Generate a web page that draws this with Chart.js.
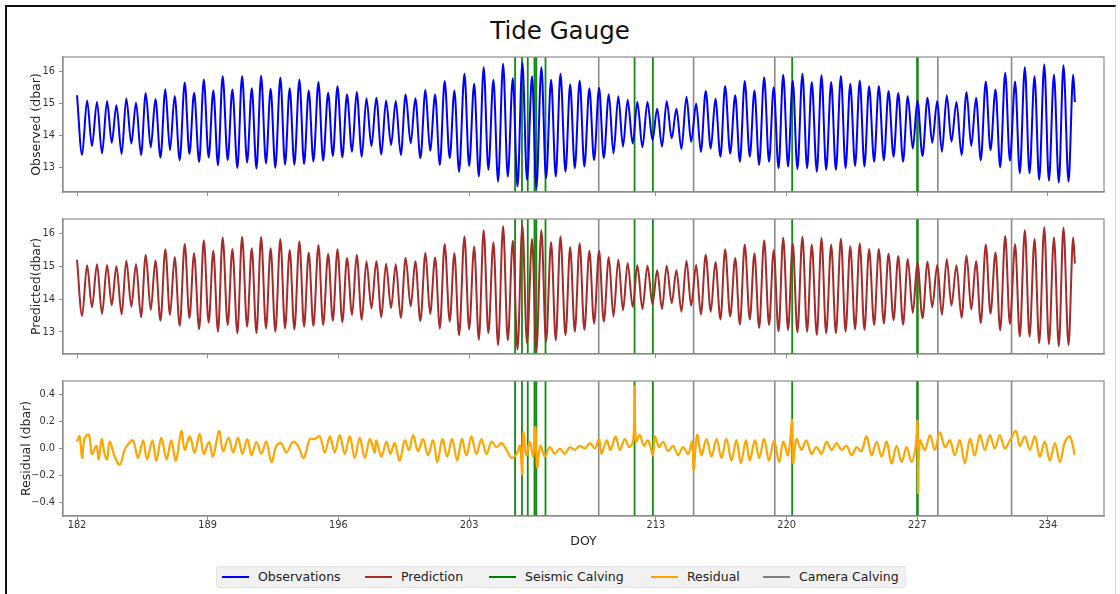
<!DOCTYPE html>
<html><head><meta charset="utf-8">
<script src="https://cdn.jsdelivr.net/npm/chart.js@4.4.0/dist/chart.umd.min.js"></script>
<style>
html,body{margin:0;padding:0;background:#fff;}
body{width:1120px;height:594px;position:relative;overflow:hidden;font-family:"DejaVu Sans",sans-serif;}
.frame{position:absolute;left:5px;top:5px;width:1111px;height:640px;border-top:2px solid #111;border-left:2px solid #111;border-right:1px solid #d6d6d6;box-sizing:border-box;}
#title{position:absolute;left:0;top:16px;width:1120px;height:30px;line-height:30px;text-align:center;font-size:24.5px;color:#111;}
.pan{position:absolute;left:0;width:1120px;}
.legbox{position:absolute;left:216px;top:566px;width:690px;height:22px;background:#f1f1f1;border:1px solid #e4e4e4;border-radius:3px;box-sizing:border-box;}
.lline{position:absolute;top:576px;width:27px;height:2px;}
.ltext{position:absolute;top:568px;height:18px;line-height:18px;font-size:12.5px;color:#222;white-space:nowrap;}
</style>
</head><body>
<div class="frame"></div>
<div id="title">Tide Gauge</div>
<div class="pan" style="top:47px;height:160px"><canvas id="c1" width="1120" height="160"></canvas></div>
<div class="pan" style="top:209px;height:160px"><canvas id="c2" width="1120" height="160"></canvas></div>
<div class="pan" style="top:371px;height:185px"><canvas id="c3" width="1120" height="185"></canvas></div>
<div class="legbox"></div>
<div class="lline" style="left:222px;background:#0000ff"></div><div class="ltext" style="left:258px">Observations</div>
<div class="lline" style="left:365px;background:#a52a2a"></div><div class="ltext" style="left:401px">Prediction</div>
<div class="lline" style="left:489px;background:#008000"></div><div class="ltext" style="left:525px">Seismic Calving</div>
<div class="lline" style="left:651px;background:#ffa500"></div><div class="ltext" style="left:687px">Residual</div>
<div class="lline" style="left:763px;background:#808080"></div><div class="ltext" style="left:799px">Camera Calving</div>
<script>
// ---- data ----
const doyTicks = [182, 189, 196, 203, 213, 220, 227, 234];
const tideTicks = [13, 14, 15, 16];
const resTicks = [-0.4, -0.2, 0.0, 0.2, 0.4];
const seismicCalving = [205.46, 205.83, 206.14, 206.50, 206.60, 207.09, 211.86, 212.84, 220.30, 226.99, 227.03];
const cameraCalving = [206.56, 209.94, 215.02, 219.37, 228.10, 232.05];

// times (DOY) of the tidal highs and lows
const tideT = [
182.00,182.27,182.54,182.80,183.07,183.34,183.61,183.86,184.11,184.39,
184.64,184.91,185.16,185.43,185.68,185.95,186.20,186.47,186.73,186.98,
187.23,187.50,187.77,188.02,188.27,188.54,188.79,189.05,189.30,189.55,
189.80,190.07,190.32,190.59,190.84,191.11,191.36,191.61,191.86,192.12,
192.37,192.62,192.89,193.14,193.39,193.64,193.91,194.16,194.41,194.66,
194.93,195.18,195.45,195.70,195.95,196.21,196.46,196.73,196.98,197.25,
197.50,197.77,
198.03,198.30,198.55,198.82,199.07,199.34,199.60,199.87,200.12,200.39,
200.66,200.91,201.18,201.43,201.69,201.96,202.21,202.46,202.75,203.00,
203.27,203.52,203.78,204.03,204.30,204.55,204.82,205.07,205.34,205.59,
205.85,206.10,206.37,206.60,206.87,207.12,207.39,207.64,207.89,208.16,
208.41,208.66,208.92,209.17,209.44,209.69,209.96,210.21,210.48,210.73,
210.99,211.24,211.49,211.76,212.01,212.28,212.55,212.82,213.07,213.33,
213.58,213.85,214.10,214.37,214.64,214.89,215.16,215.41,215.67,215.94,
216.19,216.46,216.71,216.98,217.25,217.50,
217.76,218.03,218.28,218.53,218.80,219.06,219.31,219.57,219.82,220.08,
220.33,220.58,220.85,221.10,221.35,221.62,221.87,222.12,222.39,222.64,
222.91,223.16,223.41,223.67,223.92,224.17,224.42,224.69,224.94,225.21,
225.46,225.73,225.98,226.24,226.49,226.76,227.01,227.28,227.55,227.80,
228.07,228.32,228.58,228.83,229.10,229.37,229.64,229.89,230.15,230.40,
230.67,230.92,231.19,231.44,231.71,231.96,232.24,232.49,232.76,233.01,
233.28,233.53,233.80,234.05,234.32,234.58,234.83,235.10,235.35,235.44];

const obsV = [
15.26,13.40,15.10,13.68,15.05,13.45,15.08,13.78,14.95,13.43,
15.16,13.76,15.03,13.40,15.33,13.64,15.14,13.32,15.45,13.55,
15.24,13.24,15.66,13.43,15.34,13.18,15.75,13.32,15.41,13.08,
15.86,13.24,15.44,13.00,15.86,13.17,15.48,12.98,15.87,13.14,
15.46,13.00,15.81,13.10,15.48,13.10,15.75,13.12,15.41,13.20,
15.67,13.22,15.34,13.37,15.54,13.33,15.28,13.50,15.36,13.35,
15.17,13.68,
15.18,13.42,15.10,13.71,15.08,13.40,15.28,13.76,15.17,13.30,
15.43,13.53,15.28,13.09,15.70,13.30,15.41,12.88,15.93,13.06,
15.62,12.73,16.13,12.94,15.74,12.57,16.24,12.73,15.79,12.42,
16.29,12.63,15.85,12.37,16.13,12.68,15.74,12.73,15.93,12.88,
15.60,12.99,15.72,13.04,15.48,13.24,15.49,13.30,15.29,13.45,
15.23,13.66,15.12,13.76,15.05,13.64,15.05,13.86,14.84,13.66,
15.07,13.92,14.84,13.59,15.21,13.81,15.00,13.50,15.39,13.60,
15.15,13.35,15.55,13.45,15.26,13.19,
15.70,13.35,15.41,13.09,15.82,13.19,15.51,12.99,15.90,13.04,
15.72,12.96,15.93,12.99,15.67,12.88,15.88,12.94,15.67,12.94,
15.86,12.99,15.62,13.06,15.72,13.04,15.54,13.19,15.55,13.24,
15.39,13.35,15.33,13.19,15.23,13.60,15.10,13.37,15.18,13.78,
15.08,13.50,15.26,13.81,15.05,13.40,15.36,13.68,15.18,13.24,
15.69,13.55,15.44,13.02,15.96,13.22,15.69,12.83,16.13,12.83,
15.85,12.63,16.22,12.60,15.90,12.54,16.19,12.57,15.90,15.05];

const predV = [
15.20,13.49,15.03,13.75,15.06,13.55,15.04,13.81,15.01,13.54,
15.18,13.77,15.07,13.45,15.35,13.67,15.18,13.34,15.52,13.52,
15.28,13.18,15.68,13.42,15.40,13.08,15.79,13.28,15.47,13.01,
15.88,13.21,15.53,12.96,15.90,13.16,15.55,12.96,15.89,13.11,
15.55,13.01,15.83,13.11,15.50,13.08,15.76,13.16,15.42,13.18,
15.65,13.21,15.38,13.34,15.52,13.30,15.25,13.52,15.35,13.37,
15.15,13.72,
15.15,13.45,15.08,13.73,15.06,13.43,15.26,13.78,15.15,13.33,
15.41,13.55,15.27,13.11,15.68,13.32,15.40,12.90,15.91,13.08,
15.60,12.76,16.10,12.96,15.73,12.60,16.22,12.75,15.78,12.46,
16.25,12.66,15.83,12.42,16.10,12.70,15.73,12.75,15.91,12.90,
15.59,13.01,15.70,13.06,15.47,13.26,15.47,13.31,15.28,13.47,
15.21,13.66,15.10,13.76,15.03,13.70,15.02,13.84,14.88,13.70,
15.02,13.88,14.88,13.62,15.17,13.80,15.04,13.53,15.35,13.62,
15.13,13.38,15.52,13.47,15.25,13.22,
15.66,13.38,15.40,13.12,15.79,13.21,15.50,13.02,15.87,13.06,
15.70,12.99,15.90,13.01,15.66,12.91,15.86,12.96,15.66,12.96,
15.84,13.01,15.61,13.08,15.70,13.06,15.53,13.21,15.53,13.26,
15.38,13.36,15.31,13.22,15.22,13.58,15.12,13.42,15.14,13.75,
15.05,13.52,15.22,13.80,15.03,13.43,15.33,13.68,15.16,13.27,
15.66,13.56,15.42,13.05,15.92,13.24,15.67,12.86,16.10,12.86,
15.83,12.66,16.19,12.63,15.88,12.57,16.17,12.60,15.88,15.08];

const resT = [
182.00,182.14,182.27,182.41,182.64,182.80,183.04,183.16,183.32,183.48,
183.61,183.75,184.02,184.29,184.55,184.73,185.00,185.27,185.54,185.75,
186.04,186.25,186.52,186.79,187.05,187.29,187.59,187.77,188.04,188.30,
188.57,188.79,189.07,189.28,189.61,189.82,190.11,190.36,190.62,190.86,
191.12,191.34,191.61,191.87,192.14,192.41,192.68,192.94,193.21,193.57,
193.84,194.14,194.47,194.73,195.00,195.27,195.54,195.80,196.07,196.34,
196.61,196.87,197.14,197.41,197.68,197.94,
198.03,198.30,198.57,198.78,199.01,199.28,199.55,199.78,200.00,200.26,
200.53,200.80,201.07,201.30,201.57,201.82,202.09,202.36,202.61,202.86,
203.12,203.39,203.66,203.93,204.20,204.46,204.73,205.00,205.27,205.54,
205.72,205.84,205.90,206.07,206.25,206.43,206.55,206.64,206.82,207.05,
207.32,207.59,207.86,208.12,208.39,208.66,208.93,209.20,209.47,209.73,
209.96,210.09,210.36,210.57,210.84,211.07,211.34,211.57,211.79,211.86,
211.93,212.14,212.36,212.59,212.84,212.94,213.17,213.39,213.66,213.92,
214.19,214.46,214.73,214.94,215.03,215.21,215.44,215.71,215.98,216.25,
216.51,216.78,217.05,217.32,217.55,217.82,
218.03,218.30,218.53,218.80,219.06,219.33,219.60,219.82,220.08,220.30,
220.35,220.53,220.80,221.06,221.33,221.60,221.87,222.14,222.41,222.67,
222.94,223.21,223.48,223.75,224.01,224.28,224.55,224.82,225.09,225.36,
225.62,225.89,226.16,226.43,226.69,226.91,227.01,227.05,227.14,227.41,
227.68,227.94,228.21,228.48,228.75,229.01,229.28,229.55,229.82,230.08,
230.35,230.62,230.89,231.15,231.42,231.69,231.96,232.28,232.49,232.76,
233.03,233.30,233.56,233.83,234.10,234.37,234.64,234.91,235.17,235.44];

const resV = [
0.05,0.09,-0.07,0.08,0.10,-0.04,0.02,-0.08,0.07,-0.04,
-0.08,0.05,-0.06,-0.12,-0.01,0.03,0.06,-0.07,0.06,-0.08,
0.06,-0.09,0.08,-0.08,0.06,-0.09,0.13,-0.01,0.09,-0.03,
0.11,-0.04,0.05,-0.06,0.13,-0.02,0.08,-0.03,0.08,-0.04,
0.07,-0.05,0.05,-0.04,0.05,-0.10,0.02,0.04,-0.03,0.05,
0.02,-0.07,0.07,0.07,0.09,-0.03,0.09,-0.03,0.10,-0.04,
0.09,-0.07,0.08,-0.07,0.07,-0.03,
0.06,-0.06,0.05,-0.04,0.04,-0.09,0.06,-0.01,0.10,-0.02,
0.07,-0.05,0.06,-0.10,0.07,-0.06,0.07,-0.09,0.07,-0.05,
0.09,-0.04,0.07,-0.04,0.05,0.01,0.04,-0.01,-0.07,-0.04,
0.02,-0.19,0.12,-0.05,0.05,-0.06,0.16,-0.14,0.02,-0.06,
0.01,-0.04,0.00,-0.04,0.01,-0.01,0.02,0.00,0.04,0.00,
0.07,-0.04,0.06,-0.01,0.09,-0.01,0.07,0.01,0.06,0.46,
0.05,0.10,0.02,0.06,-0.05,0.09,0.01,0.05,-0.02,0.02,
-0.05,0.01,-0.04,0.05,-0.16,0.10,-0.05,0.07,-0.06,0.07,
-0.07,0.07,-0.09,0.06,-0.11,0.06,
-0.09,0.06,-0.07,0.07,-0.09,0.06,-0.10,0.05,-0.05,0.21,
-0.11,0.07,-0.01,0.06,-0.04,0.01,-0.04,0.05,-0.01,0.04,
-0.01,0.02,-0.05,0.01,-0.02,0.09,-0.05,0.05,-0.06,0.05,
-0.11,0.02,-0.10,0.01,-0.10,0.01,0.20,-0.33,0.06,-0.01,
0.10,-0.01,0.12,0.01,0.06,-0.05,0.06,-0.11,0.07,-0.05,
0.10,-0.01,0.10,0.00,0.10,0.00,0.06,0.13,0.02,0.09,
-0.01,0.09,-0.06,0.05,-0.09,0.04,-0.10,0.05,0.09,-0.05];

// ---- chart construction ----
const FONT = "'DejaVu Sans', sans-serif";
const AX = '#8c8c8c';
const xMin = 181.25, xMax = 237.0;
const pts = (t, v) => t.map((x, i) => ({x: x, y: v[i]}));

function framePlugin() {
  return {
    id: 'frame',
    afterDatasetsDraw(chart) {
      const a = chart.chartArea, c = chart.ctx;
      c.save(); c.strokeStyle = AX; c.lineWidth = 1.2;
      c.strokeRect(a.left, a.top, a.right - a.left, a.bottom - a.top);
      c.restore();
    }
  };
}
function vlinePlugin() {
  return {
    id: 'vlines',
    beforeDatasetsDraw(chart) {
      const a = chart.chartArea, c = chart.ctx, xs = chart.scales.x;
      c.save();
      const draw = (list, col, w) => {
        c.strokeStyle = col; c.lineWidth = w;
        list.forEach(t => {
          const px = xs.getPixelForValue(t);
          c.beginPath(); c.moveTo(px, a.top); c.lineTo(px, a.bottom); c.stroke();
        });
      };
      draw(cameraCalving, '#8a8a8a', 1.6);
      draw(seismicCalving, '#138a13', 1.8);
      c.restore();
    }
  };
}

function makePanel(id, dataset, yMin, yMax, yTicks, fmt, yTitle, titlePad, showX, xH) {
  new Chart(document.getElementById(id), {
    type: 'line',
    data: { datasets: [dataset] },
    options: {
      responsive: false, animation: false, events: [],
      layout: { padding: { left: 0, right: 16, top: 10, bottom: 0 } },
      plugins: { legend: { display: false }, tooltip: { enabled: false } },
      scales: {
        x: {
          type: 'linear', min: xMin, max: xMax,
          afterBuildTicks: s => { s.ticks = doyTicks.map(v => ({ value: v })); },
          afterFit: s => { s.height = xH; },
          grid: { drawOnChartArea: false, drawTicks: true, tickLength: 4, color: AX },
          border: { display: true, color: AX, width: 1.2 },
          ticks: { display: showX, padding: 0, color: '#333', font: { family: FONT, size: 9.8 },
                   maxRotation: 0, autoSkip: false, callback: v => String(v) },
          title: { display: showX, text: 'DOY', color: '#222', font: { family: FONT, size: 12.5 },
                   padding: { top: 0, bottom: 6.5 } }
        },
        y: {
          min: yMin, max: yMax,
          afterBuildTicks: s => { s.ticks = yTicks.map(v => ({ value: v })); },
          afterFit: s => { s.width = 63; },
          grid: { drawOnChartArea: false, drawTicks: true, tickLength: 4, color: AX },
          border: { display: true, color: AX, width: 1.2 },
          ticks: { padding: 4, color: '#333', font: { family: FONT, size: 9.8 }, callback: fmt },
          title: { display: true, text: yTitle, color: '#222', font: { family: FONT, size: 12.5 },
                   padding: { top: titlePad, bottom: 0 } }
        }
      }
    },
    plugins: [vlinePlugin(), framePlugin()]
  });
}

const intFmt = v => String(v);
const resFmt = v => v.toFixed(1).replace('-', '\u2212');

makePanel('c1', {
  data: pts(tideT, obsV), borderColor: '#0000ff', borderWidth: 2, pointRadius: 0,
  cubicInterpolationMode: 'monotone', fill: false
}, 12.25, 16.45, tideTicks, intFmt, 'Observed (dbar)', 29.5, false, 15);

makePanel('c2', {
  data: pts(tideT, predV), borderColor: '#a52a2a', borderWidth: 2, pointRadius: 0,
  cubicInterpolationMode: 'monotone', fill: false
}, 12.33, 16.44, tideTicks, intFmt, 'Predicted(dbar)', 29.5, false, 15);

makePanel('c3', {
  data: pts(resT, resV), borderColor: '#ffa500', borderWidth: 2.2, pointRadius: 0,
  tension: 0.35, borderJoinStyle: 'round', fill: false
}, -0.5, 0.5, resTicks, resFmt, 'Residual (dbar)', 19.5, true, 40);
</script>
</body></html>
